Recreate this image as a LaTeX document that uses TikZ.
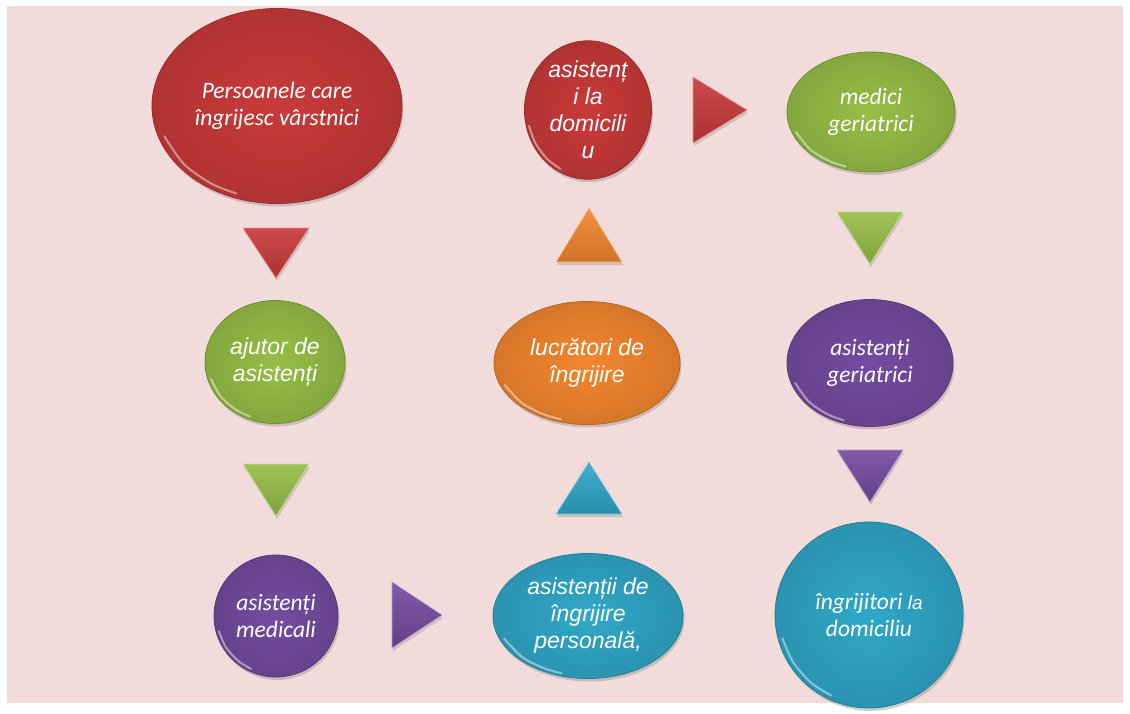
\documentclass[tikz,border=0pt]{standalone}
\usepackage{fontspec}
\setmainfont{Carlito}
\newfontfamily\arial{Liberation Sans}
\usetikzlibrary{shapes.geometric,shadows,calc}
\definecolor{bgpink}{RGB}{242,220,219}
\definecolor{redC}{RGB}{202,58,58}
\definecolor{greenC}{RGB}{150,190,70}
\definecolor{purpleC}{RGB}{116,76,160}
\definecolor{tealC}{RGB}{48,168,200}
\definecolor{orangeC}{RGB}{244,134,46}
\newcommand\glint[1]{%
  \draw[white,opacity=0.45,line width=2pt,line cap=round]
    plot[smooth] coordinates {($(#1.center)!0.95!(#1.195)$) ($(#1.center)!0.95!(#1.212)$)
      ($(#1.center)!0.95!(#1.230)$) ($(#1.center)!0.95!(#1.245)$)};}
\begin{document}
\begin{tikzpicture}[x=1pt,y=-1pt,
  ball/.style={ellipse, inner sep=0pt, text=white, align=center,
    font=\fontsize{23.5}{27}\selectfont\itshape,
    inner color=#1, outer color=#1!88!black,
    draw=#1!75!black, line width=0.8pt,
    drop shadow={opacity=0.35, shadow xshift=1.5pt, shadow yshift=-3pt}},
  ar/.style={font=\arial\fontsize{23}{27}\selectfont\itshape},
  tri/.style={top color=#1!92!white, bottom color=#1!85!black,
    draw=#1!55!white, line width=0.6pt, line join=round,
    drop shadow={opacity=0.3, shadow xshift=1pt, shadow yshift=-3pt}}
]
\useasboundingbox (0,0) rectangle (1130,713);
\fill[white] (0,0) rectangle (1130,713);
\fill[bgpink] (7,6) rectangle (1123,703);

% nodes
\node[ball=redC, minimum width=250, minimum height=195] (p) at (277,106)
  {Persoanele care\\îngrijesc vârstnici};
\node[ball=greenC, ar, minimum width=140, minimum height=123] (aj) at (275,362)
  {ajutor de\\asistenți};
\node[ball=purpleC, minimum width=124, minimum height=122] (am) at (276,616)
  {asistenți\\medicali};
\node[ball=tealC, ar, minimum width=190, minimum height=125] (ai) at (588,616)
  {asistenții de\\îngrijire\\personală,};
\node[ball=orangeC, ar, minimum width=186, minimum height=123] (lu) at (587,363)
  {lucrători de\\îngrijire};
\node[ball=redC, ar, minimum width=127, minimum height=124] (ad) at (588,110)
  {asistenț\\i la\\domicili\\u};
\node[ball=greenC, minimum width=168, minimum height=120] (mg) at (871,112)
  {medici\\geriatrici};
\node[ball=purpleC, minimum width=166, minimum height=127] (ag) at (870,363)
  {asistenți\\geriatrici};
\node[ball=tealC, minimum width=188, minimum height=186] (id) at (869,615)
  {îngrijitori {\arial\fontsize{19}{27}\selectfont\itshape la}\\domiciliu};

\foreach \n in {p,aj,am,ai,lu,ad,mg,ag,id} {\glint{\n}}

% arrow markers (triangles) between nodes
\coordinate (t1) at (276,253);
\coordinate (t2) at (276,490);
\coordinate (t3) at (417,615);
\coordinate (t4) at (589,488);
\coordinate (t5) at (589,235);
\coordinate (t6) at (720,110);
\coordinate (t7) at (870,238);
\coordinate (t8) at (870,476);

\path[tri=redC, shift={(t1)}] (-33,-25) -- (33,-25) -- (0,25) -- cycle;
\path[tri=greenC, shift={(t2)}] (-33,-26) -- (33,-26) -- (0,26) -- cycle;
\path[tri=purpleC, shift={(t3)}] (-25,-33) -- (25,0) -- (-25,33) -- cycle;
\path[tri=tealC, shift={(t4)}] (-33,26) -- (33,26) -- (0,-26) -- cycle;
\path[tri=orangeC, shift={(t5)}] (-33,27) -- (33,27) -- (0,-27) -- cycle;
\path[tri=redC, shift={(t6)}] (-27,-33) -- (27,0) -- (-27,33) -- cycle;
\path[tri=greenC, shift={(t7)}] (-33,-26) -- (33,-26) -- (0,26) -- cycle;
\path[tri=purpleC, shift={(t8)}] (-33,-26) -- (33,-26) -- (0,26) -- cycle;
\end{tikzpicture}
\end{document}
